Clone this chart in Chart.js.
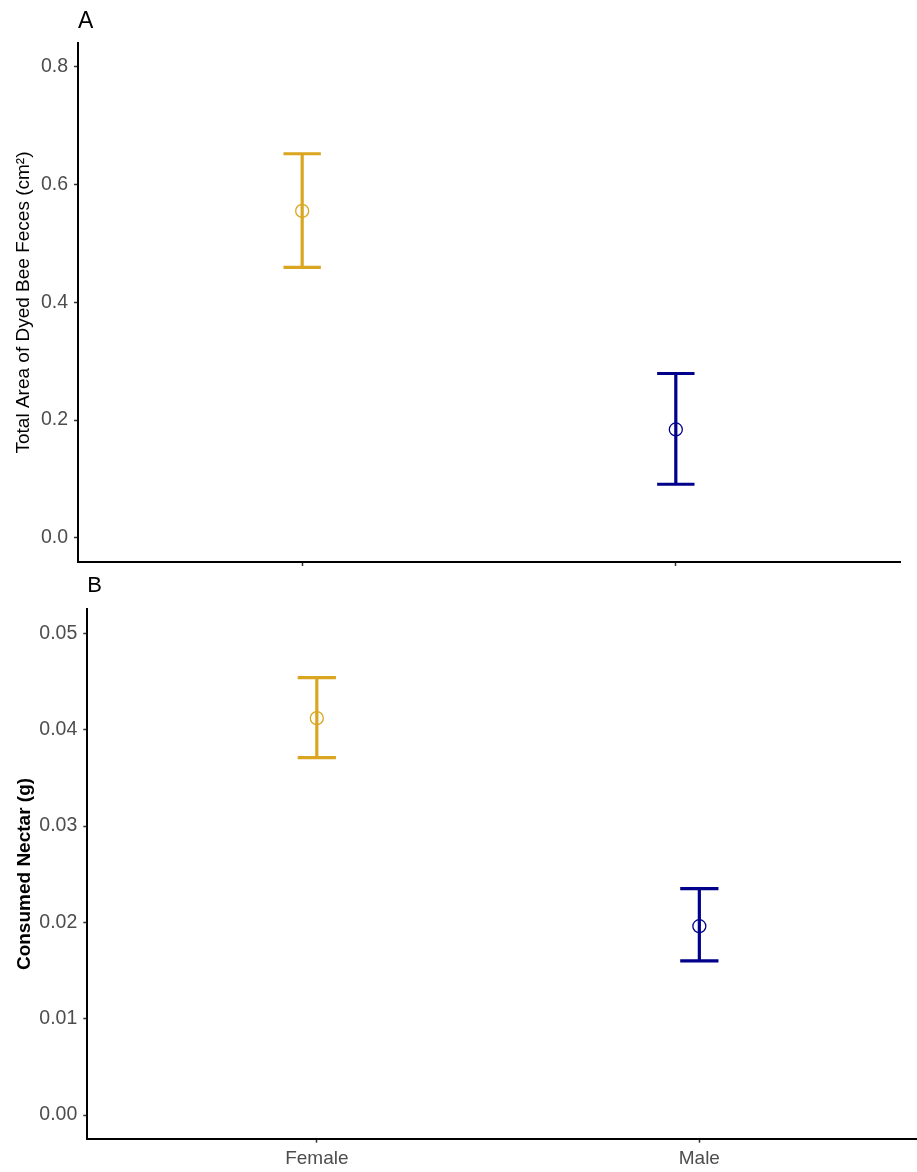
<!DOCTYPE html>
<html>
<head>
<meta charset="utf-8">
<script src="https://cdn.jsdelivr.net/npm/chart.js@4.4.0/dist/chart.umd.min.js"></script>
<style>
  html, body { margin: 0; padding: 0; background: #fff; width: 917px; height: 1172px; overflow: hidden; }
  canvas { position: absolute; left: 0; }
  #panelA { top: 0; }
  #panelB { top: 570px; }
</style>
</head>
<body>
<canvas id="panelA" width="917" height="584"></canvas>
<canvas id="panelB" width="917" height="602"></canvas>
<script>
// Groups and their positions on the x axis
const sexes = ['Female', 'Male'];
const sexPositions = [1, 2];

// Panel A: total area of dyed bee feces (cm^2), mean with error range
const fecesMean  = [0.555, 0.184];
const fecesLower = [0.459, 0.091];
const fecesUpper = [0.652, 0.279];
const fecesTicks = [0.0, 0.2, 0.4, 0.6, 0.8];

// Panel B: consumed nectar (g), mean with error range
const nectarMean  = [0.0412, 0.0196];
const nectarLower = [0.0371, 0.0160];
const nectarUpper = [0.0454, 0.0235];
const nectarTicks = [0.00, 0.01, 0.02, 0.03, 0.04, 0.05];

const sexColors = ['#DAA520', '#00008B'];
const FONT = '"Liberation Sans", Arial, Helvetica, sans-serif';

// Draws vertical error bars with caps, positioned through the chart scales
const errorBarPlugin = {
  id: 'errorBars',
  beforeDatasetsDraw(chart, args, opts) {
    const { ctx, scales: { x, y } } = chart;
    ctx.save();
    ctx.lineWidth = opts.lineWidth;
    ctx.lineCap = 'butt';
    opts.positions.forEach((pos, i) => {
      const cx = x.getPixelForValue(pos);
      const yl = y.getPixelForValue(opts.lower[i]);
      const yu = y.getPixelForValue(opts.upper[i]);
      const x0 = x.getPixelForValue(pos - opts.capWidth / 2);
      const x1 = x.getPixelForValue(pos + opts.capWidth / 2);
      ctx.strokeStyle = opts.colors[i];
      ctx.beginPath();
      ctx.moveTo(cx, yu); ctx.lineTo(cx, yl);
      ctx.moveTo(x0, yu); ctx.lineTo(x1, yu);
      ctx.moveTo(x0, yl); ctx.lineTo(x1, yl);
      ctx.stroke();
    });
    ctx.restore();
  }
};

function makePanel(id, cfg) {
  return new Chart(document.getElementById(id), {
    type: 'scatter',
    data: {
      datasets: [{
        data: cfg.mean.map((m, i) => ({ x: sexPositions[i], y: m })),
        pointRadius: 6.5,
        pointHoverRadius: 6.5,
        pointBorderWidth: 1.3,
        pointBorderColor: sexColors,
        pointBackgroundColor: 'rgba(0,0,0,0)',
        showLine: false
      }]
    },
    options: {
      responsive: false,
      animation: false,
      events: [],
      layout: { autoPadding: false, padding: { top: 0, right: cfg.padRight, bottom: 0, left: 0 } },
      plugins: {
        legend: { display: false },
        tooltip: { enabled: false },
        title: {
          display: true,
          text: cfg.tag,
          align: 'start',
          fullSize: false,
          color: '#000',
          font: { family: FONT, size: cfg.tagSize, weight: 'normal', lineHeight: 1.2 },
          padding: { top: cfg.tagTop, bottom: cfg.tagBottom }
        },
        errorBars: {
          positions: sexPositions,
          lower: cfg.lower,
          upper: cfg.upper,
          colors: sexColors,
          capWidth: 0.1,
          lineWidth: 3.2
        }
      },
      scales: {
        x: {
          type: 'linear',
          min: 0.4,
          max: cfg.xMax,
          afterBuildTicks: s => { s.ticks = sexPositions.map(v => ({ value: v })); },
          afterFit: s => { s.height = cfg.xAxisHeight; },
          ticks: {
            callback: v => cfg.showXLabels ? sexes[sexPositions.indexOf(v)] : '',
            color: '#4D4D4D',
            font: { family: FONT, size: 19 },
            padding: 5,
            maxRotation: 0,
            autoSkip: false
          },
          grid: { drawOnChartArea: false, drawTicks: true, tickLength: 4, tickColor: '#333', tickWidth: 1.5 },
          border: { display: true, color: '#000', width: 2 }
        },
        y: {
          type: 'linear',
          min: cfg.yMin,
          max: cfg.yMax,
          afterBuildTicks: s => { s.ticks = cfg.ticks.map(v => ({ value: v })); },
          afterFit: s => { s.width = cfg.yAxisWidth; },
          ticks: {
            callback: v => v.toFixed(cfg.decimals),
            color: '#4D4D4D',
            font: { family: FONT, size: 19.5 },
            padding: 6,
            autoSkip: false
          },
          grid: { drawOnChartArea: false, drawTicks: true, tickLength: 4, tickColor: '#333', tickWidth: 1.5 },
          border: { display: true, color: '#000', width: 2 },
          title: {
            display: true,
            text: cfg.yTitle,
            color: '#000',
            font: { family: FONT, size: 19, weight: cfg.yTitleWeight, lineHeight: 1.2 },
            padding: { top: cfg.yTitlePad, bottom: 0 }
          }
        }
      }
    },
    plugins: [errorBarPlugin]
  });
}

makePanel('panelA', {
  tag: 'A', tagSize: 23, tagTop: 7.5, tagBottom: 7.9,
  mean: fecesMean, lower: fecesLower, upper: fecesUpper,
  ticks: fecesTicks, decimals: 1,
  yMin: -0.041, yMax: 0.840,
  xMax: 2.6, padRight: 17,
  xAxisHeight: 22, yAxisWidth: 78,
  showXLabels: false,
  yTitle: 'Total Area of Dyed Bee Feces (cm²)', yTitleWeight: 'normal', yTitlePad: 12
});

makePanel('panelB', {
  tag: 'B', tagSize: 22, tagTop: 2.3, tagBottom: 10.6,
  mean: nectarMean, lower: nectarLower, upper: nectarUpper,
  ticks: nectarTicks, decimals: 2,
  yMin: -0.00246, yMax: 0.0525,
  xMax: 2.569, padRight: 0,
  xAxisHeight: 33.3, yAxisWidth: 87.3,
  showXLabels: true,
  yTitle: 'Consumed Nectar (g)', yTitleWeight: 'bold', yTitlePad: 13
});
</script>
</body>
</html>
